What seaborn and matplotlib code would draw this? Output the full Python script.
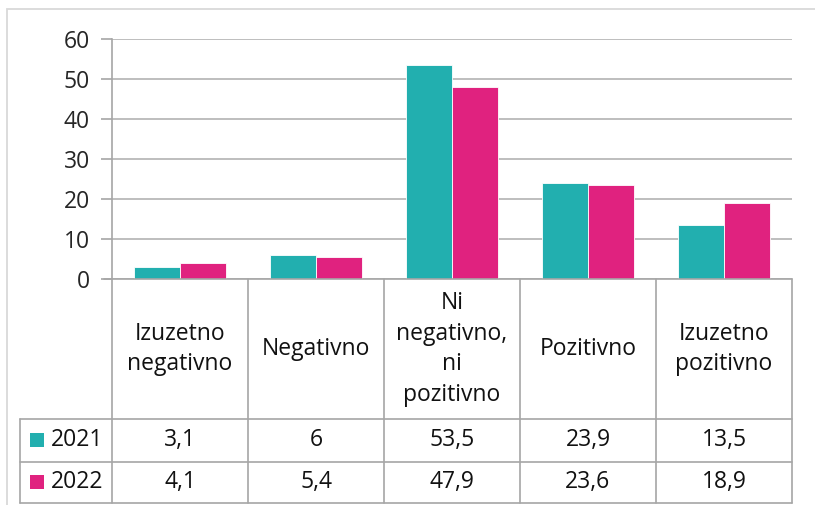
import pandas as pd
import numpy as np
import matplotlib.pyplot as plt
import seaborn as sns
from matplotlib.patches import Rectangle

# Data
categories = ['Izuzetno\nnegativno', 'Negativno', 'Ni\nnegativno,\nni\npozitivno',
              'Pozitivno', 'Izuzetno\npozitivno']
years = ['2021', '2022']
values_2021 = [3.1, 6, 53.5, 23.9, 13.5]
values_2022 = [4.1, 5.4, 47.9, 23.6, 18.9]
labels_2021 = ['3,1', '6', '53,5', '23,9', '13,5']
labels_2022 = ['4,1', '5,4', '47,9', '23,6', '18,9']
colors = ['#22AFAF', '#E0227F']

data = pd.DataFrame({
    'Kategorija': categories * 2,
    'Godina': [years[0]] * 5 + [years[1]] * 5,
    'Vrijednost': values_2021 + values_2022,
})

sns.set_style('white')
plt.rcParams['font.family'] = ['Open Sans', 'DejaVu Sans']
FS = 16.5

W, H = 815, 505
fig = plt.figure(figsize=(W / 100, H / 100), dpi=100)

def px(x0, y0, x1, y1):
    # pixel box -> figure fraction
    return [x0 / W, 1 - y1 / H, (x1 - x0) / W, (y1 - y0) / H]

ax = fig.add_axes(px(112, 39, 792, 279))

# outer chart border (only left/top visible in the picture)
fig.patches.append(Rectangle((7 / W, -0.1), 1.2, 1 - 9 / H + 0.1, transform=fig.transFigure,
                             fill=False, edgecolor='#D9D9D9', linewidth=1.3))

sns.barplot(data=data, x='Kategorija', y='Vrijednost', hue='Godina', palette=colors,
            width=0.67, saturation=1, legend=False, ax=ax, zorder=3)
for p in ax.patches:
    p.set_edgecolor('white')
    p.set_linewidth(0.6)

ax.set_xlim(-0.5, 4.5)
ax.set_ylim(0, 60)
ax.set_yticks(range(0, 61, 10))
ax.set_yticklabels([str(v) for v in range(0, 61, 10)], fontsize=FS)
ax.tick_params(axis='y', length=8, width=1.2, color='#A6A6A6', pad=8, left=True)
ax.tick_params(axis='x', bottom=False, labelbottom=False)
ax.set_xlabel('')
ax.set_ylabel('')
ax.yaxis.grid(True, color='#B3B3B3', linewidth=1.2, zorder=0)
for s in ['top', 'right', 'bottom']:
    ax.spines[s].set_visible(False)
ax.spines['left'].set_color('#A6A6A6')
ax.spines['left'].set_linewidth(1.2)

# data table below the plot, drawn in pixel coordinates
lc = '#A6A6A6'
lw = 1.2
def hline(y, x0, x1):
    fig.add_artist(plt.Line2D([x0 / W, x1 / W], [1 - y / H, 1 - y / H], color=lc, lw=lw,
                              transform=fig.transFigure))
def vline(x, y0, y1):
    fig.add_artist(plt.Line2D([x / W, x / W], [1 - y0 / H, 1 - y1 / H], color=lc, lw=lw,
                              transform=fig.transFigure))

col_edges = [112, 248, 384, 520, 656, 792]
rows = [279, 419, 461.5, 503]
hline(279, 104, 792)
for y in rows[1:]:
    hline(y, 20, 792)
vline(112, 279, 503)
for x in col_edges[1:]:
    vline(x, 279, 503)
vline(20, 419, 503)

for i, cat in enumerate(categories):
    cx = (col_edges[i] + col_edges[i + 1]) / 2
    fig.text(cx / W, 1 - (rows[0] + rows[1]) / 2 / H, cat, ha='center', va='center',
             fontsize=FS, linespacing=1.38, color='#111111')
    fig.text(cx / W, 1 - (rows[1] + rows[2]) / 2 / H, labels_2021[i], ha='center',
             va='center', fontsize=FS, color='#111111')
    fig.text(cx / W, 1 - (rows[2] + rows[3]) / 2 / H, labels_2022[i], ha='center',
             va='center', fontsize=FS, color='#111111')

for r, (yr, c) in enumerate(zip(years, colors)):
    cy = (rows[r + 1] + rows[r + 2]) / 2
    fig.patches.append(Rectangle((30 / W, 1 - (cy + 7) / H), 14 / W, 14 / H,
                                 transform=fig.transFigure, facecolor=c, edgecolor='none'))
    fig.text(51 / W, 1 - cy / H, yr, ha='left', va='center', fontsize=FS, color='#111111')

fig.savefig('out.png', dpi=100)
